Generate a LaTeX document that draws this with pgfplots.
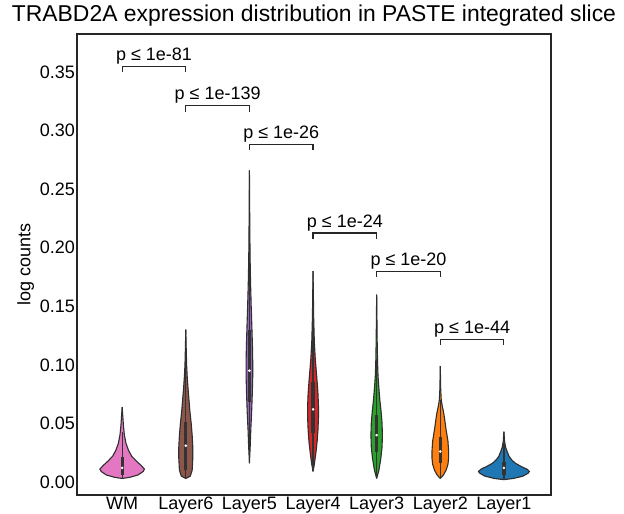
\documentclass[border=0pt]{standalone}
\usepackage{pgfplots}
\pgfplotsset{compat=1.18}
\usepackage{pgfplotstable}
\usepgfplotslibrary{fillbetween}
\usepackage{fontspec}
\setmainfont{Liberation Sans}

\definecolor{cWM}{HTML}{E377C2}
\definecolor{cL6}{HTML}{8C564B}
\definecolor{cL5}{HTML}{9467BD}
\definecolor{cL4}{HTML}{D62728}
\definecolor{cL3}{HTML}{2CA02C}
\definecolor{cL2}{HTML}{FF7F0E}
\definecolor{cL1}{HTML}{1F77B4}
\definecolor{edgec}{HTML}{2E2E2E}
\definecolor{boxc}{HTML}{333333}

% violin profiles: y value, half width (in category units)
\pgfplotstableread{
y w
0.003 0.0
0.004 0.12
0.006 0.25
0.009 0.33
0.011 0.35
0.014 0.30
0.018 0.22
0.022 0.15
0.027 0.10
0.033 0.06
0.040 0.035
0.048 0.02
0.056 0.01
0.064 0.0
}\tWM
\pgfplotstableread{
y w
0.003 0.0
0.005 0.07
0.010 0.10
0.020 0.11
0.030 0.11
0.040 0.10
0.050 0.085
0.060 0.065
0.070 0.05
0.080 0.035
0.090 0.022
0.100 0.013
0.115 0.006
0.130 0.0
}\tLsix
\pgfplotstableread{
y w
0.016 0.0
0.030 0.012
0.045 0.022
0.060 0.035
0.075 0.045
0.090 0.052
0.100 0.053
0.115 0.048
0.130 0.040
0.150 0.028
0.170 0.018
0.190 0.011
0.210 0.007
0.240 0.003
0.266 0.0
}\tLfive
\pgfplotstableread{
y w
0.009 0.0
0.015 0.02
0.025 0.045
0.035 0.065
0.045 0.078
0.055 0.085
0.065 0.085
0.075 0.078
0.085 0.065
0.095 0.05
0.105 0.035
0.120 0.02
0.140 0.01
0.160 0.005
0.180 0.0
}\tLfour
\pgfplotstableread{
y w
0.003 0.0
0.010 0.035
0.020 0.065
0.030 0.085
0.040 0.09
0.050 0.085
0.060 0.07
0.070 0.05
0.080 0.035
0.090 0.022
0.100 0.015
0.120 0.008
0.140 0.004
0.160 0.0
}\tLthree
\pgfplotstableread{
y w
0.003 0.0
0.006 0.05
0.010 0.09
0.015 0.12
0.020 0.13
0.027 0.13
0.035 0.12
0.045 0.09
0.055 0.065
0.060 0.05
0.065 0.03
0.070 0.015
0.080 0.006
0.090 0.003
0.099 0.0
}\tLtwo
\pgfplotstableread{
y w
0.002 0.0
0.003 0.15
0.005 0.30
0.0075 0.38
0.009 0.40
0.011 0.36
0.013 0.28
0.016 0.18
0.019 0.12
0.022 0.08
0.026 0.05
0.030 0.025
0.035 0.01
0.043 0.0
}\tLone

% #1 position, #2 table, #3 colour, #4 name
\newcommand\violin[4]{%
  \addplot[draw=edgec, line width=1.1pt, name path=L#4] table[x expr=#1-\thisrow{w}, y=y]{#2};
  \addplot[draw=edgec, line width=1.1pt, name path=R#4] table[x expr=#1+\thisrow{w}, y=y]{#2};
  \addplot[fill=#3, draw=none] fill between[of=L#4 and R#4];
}
% #1 position, #2 whisker low, #3 q1, #4 median, #5 q3, #6 whisker high
\newcommand\inner[6]{%
  \addplot[boxc, line width=1.2pt] coordinates {(#1,#2) (#1,#6)};
  \addplot[boxc, line width=3.2pt] coordinates {(#1,#3) (#1,#5)};
  \addplot[only marks, mark=*, mark size=1.1pt, mark options={fill=white, draw=white}] coordinates {(#1,#4)};
}
\newcommand\bracket[4]{%
  \addplot[black!85, line width=1.1pt] coordinates {(#1,#3-0.005) (#1,#3) (#2,#3) (#2,#3-0.005)};
  \node[anchor=south, inner sep=2pt, font=\fontsize{18}{20}\selectfont] at (axis cs:{(#1+#2)/2},#3) {p ≤ #4};
}

\begin{document}
\begin{tikzpicture}
\begin{axis}[
  scale only axis, width=474pt, height=461pt,
  xmin=-0.71, xmax=6.74, ymin=-0.0111, ymax=0.3824,
  xtick={0,1,2,3,4,5,6},
  xticklabels={WM,Layer6,Layer5,Layer4,Layer3,Layer2,Layer1},
  ytick={0,0.05,0.1,0.15,0.2,0.25,0.3,0.35},
  yticklabel style={/pgf/number format/fixed, /pgf/number format/fixed zerofill, /pgf/number format/precision=2},
  /pgf/number format/assume math mode=true,
  major tick length=0pt,
  ticklabel style={font=\fontsize{18}{20}\selectfont, inner sep=2pt},
  title={TRABD2A expression distribution in PASTE integrated slice},
  title style={font=\fontsize{22.9}{26}\selectfont, yshift=-2pt},
  ylabel={log counts},
  ylabel style={font=\fontsize{18}{20}\selectfont},
  axis line style={black!85, line width=1.1pt},
]
\violin{0}{\tWM}{cWM}{a}
\violin{1}{\tLsix}{cL6}{b}
\violin{2}{\tLfive}{cL5}{c}
\violin{3}{\tLfour}{cL4}{d}
\violin{4}{\tLthree}{cL3}{e}
\violin{5}{\tLtwo}{cL2}{f}
\violin{6}{\tLone}{cL1}{g}

\inner{0}{0.003}{0.006}{0.012}{0.021}{0.043}
\inner{1}{0.003}{0.010}{0.031}{0.051}{0.110}
\inner{2}{0.016}{0.068}{0.095}{0.130}{0.220}
\inner{3}{0.009}{0.042}{0.062}{0.085}{0.150}
\inner{4}{0.003}{0.026}{0.040}{0.057}{0.105}
\inner{5}{0.003}{0.016}{0.026}{0.038}{0.070}
\inner{6}{0.002}{0.006}{0.012}{0.017}{0.033}

\bracket{0}{1}{0.355}{1e-81}
\bracket{1}{2}{0.321}{1e-139}
\bracket{2}{3}{0.288}{1e-26}
\bracket{3}{4}{0.2125}{1e-24}
\bracket{4}{5}{0.180}{1e-20}
\bracket{5}{6}{0.122}{1e-44}

\coordinate (bl) at (rel axis cs:0,0);
\coordinate (tr) at (rel axis cs:1,1);
\end{axis}
\pgfresetboundingbox
\path[use as bounding box] ([shift={(-77pt,-19pt)}]bl) rectangle ([shift={(73pt,34pt)}]tr);
\end{tikzpicture}
\end{document}
